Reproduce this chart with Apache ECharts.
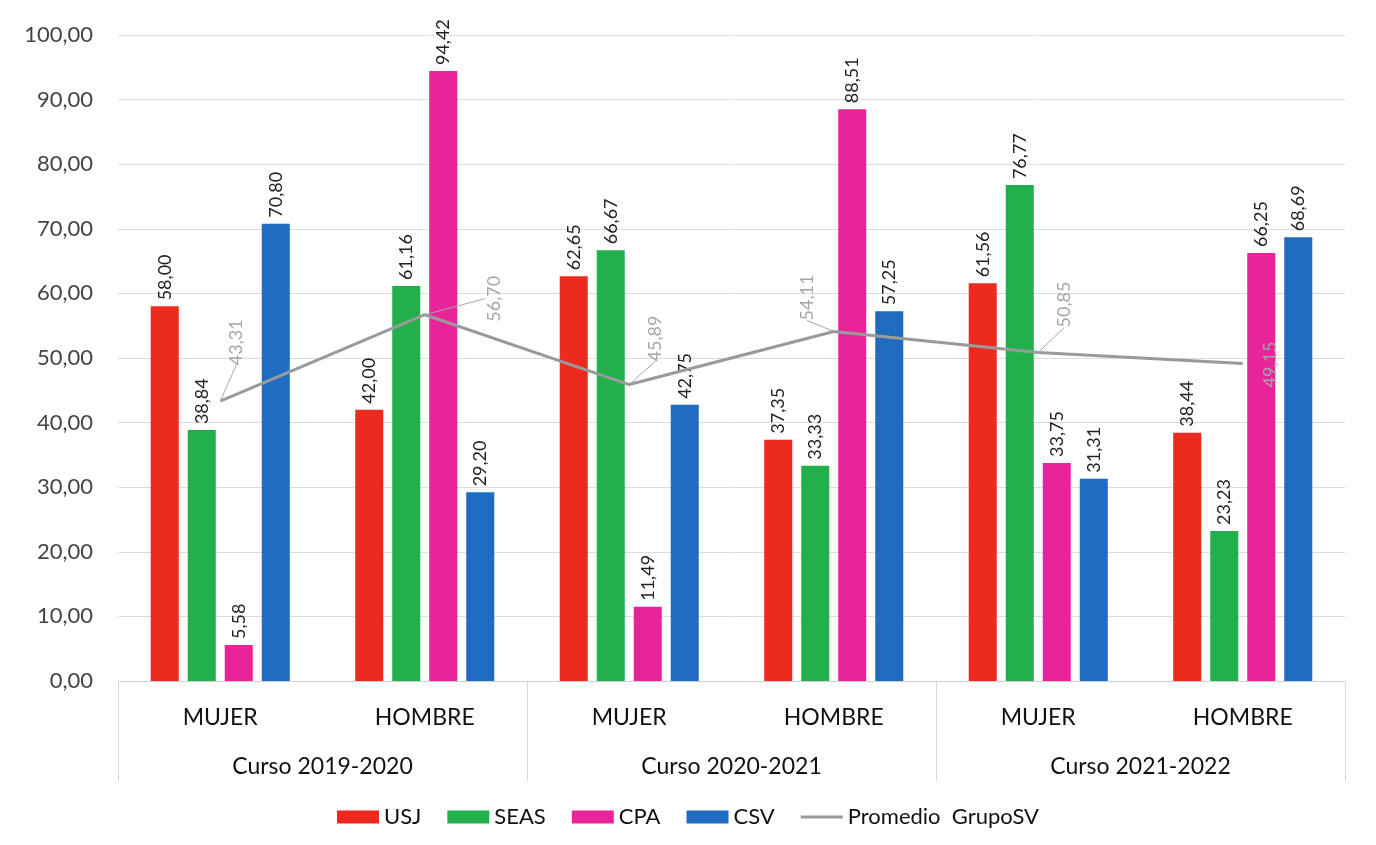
<!DOCTYPE html>
<html><head><meta charset="utf-8">
<script src="https://cdn.jsdelivr.net/npm/echarts@6/dist/echarts.min.js"></script>
<style>html,body{margin:0;padding:0;background:#fff}#c{width:1376px;height:845px}</style>
</head><body><div id="c"></div>
<script>
const categories = ['MUJER','HOMBRE','MUJER','HOMBRE','MUJER','HOMBRE'];
const courses = ['Curso 2019-2020','Curso 2020-2021','Curso 2021-2022'];
const usj  = [58.00, 42.00, 62.65, 37.35, 61.56, 38.44];
const seas = [38.84, 61.16, 66.67, 33.33, 76.77, 23.23];
const cpa  = [5.58, 94.42, 11.49, 88.51, 33.75, 66.25];
const csv  = [70.80, 29.20, 42.75, 57.25, 31.31, 68.69];
const promedio = [43.31, 56.70, 45.89, 54.11, 50.85, 49.15];

const FONT = 'Lato, "Open Sans", sans-serif';
const fmt = v => Number(v).toFixed(2).replace('.', ',');
// screen shifts [x, y] for the average labels
const lineOffsets = [[16,-31],[69,12],[26,-18],[-27,-6],[26,-20],[27,29]];

function barSeries(name, data, color){
  return {
    name, type:'bar', data, xAxisIndex:0, barGap:'32%', barCategoryGap:'32%',
    itemStyle:{color},
    label:{show:true, position:'top', rotate:90, align:'left', verticalAlign:'middle',
      distance:6, color:'#222', fontSize:18, fontFamily:FONT,
      formatter:p=>fmt(p.value)}
  };
}
const chart = echarts.init(document.getElementById('c'));
chart.setOption({
  animation:false,
  textStyle:{fontFamily:FONT},
  grid:{left:118, right:31, top:35, bottom:164},
  legend:{top:801, left:'center', itemWidth:42, itemHeight:13, itemGap:26,
    textStyle:{fontSize:22, color:'#111', fontFamily:FONT},
    data:[{name:'USJ',icon:'rect'},{name:'SEAS',icon:'rect'},{name:'CPA',icon:'rect'},{name:'CSV',icon:'rect'},
      {name:'Promedio  GrupoSV', icon:'path://M0,0L0.05,0L0.05,0.05L0,0.05Z M0,5L42,5L42,8L0,8Z M0,12.95L0.05,12.95L0.05,13L0,13Z'}]},
  xAxis:[
    {type:'category', data:categories, position:'bottom',
     axisLine:{show:true, lineStyle:{color:'#d0d0d0'}}, axisTick:{show:false},
     axisLabel:{margin:25, fontSize:23, color:'#111', fontFamily:FONT}},
    {type:'category', data:courses, position:'bottom', offset:0,
     axisLine:{show:false}, axisTick:{show:true, length:100, inside:false, lineStyle:{color:'#d8d8d8'}},
     axisLabel:{margin:74, fontSize:23, color:'#111', fontFamily:FONT}}
  ],
  yAxis:{type:'value', min:0, max:100, interval:10,
    axisLine:{show:false}, axisTick:{show:false},
    axisLabel:{formatter:v=>fmt(v), fontSize:22, color:'#444', margin:25, fontFamily:FONT},
    splitLine:{lineStyle:{color:'#dcdcdc'}}},
  series:[
    barSeries('USJ', usj, '#ec2a1e'),
    barSeries('SEAS', seas, '#22b04c'),
    barSeries('CPA', cpa, '#e8249a'),
    barSeries('CSV', csv, '#1f6cc0'),
    {name:'Promedio  GrupoSV', type:'line', xAxisIndex:0, showSymbol:true, symbol:'circle', symbolSize:0.1,
     lineStyle:{color:'#9a9a9a', width:3}, itemStyle:{color:'#9a9a9a'},
     data: promedio.map((v,i)=>({value:v, labelLine:{show:i!==5}})),
     label:{show:true, position:'top', rotate:90, align:'left', verticalAlign:'middle', distance:5,
       color:'#a6a6a6', fontSize:18, fontFamily:FONT, formatter:p=>fmt(p.value)},
     labelLine:{show:true, lineStyle:{color:'#a6a6a6', width:1}},
     labelLayout:function(p){ const o=lineOffsets[p.dataIndex]||[0,0]; return {dx:-o[1], dy:o[0]}; },
     z:5}
  ]
});
</script></body></html>
